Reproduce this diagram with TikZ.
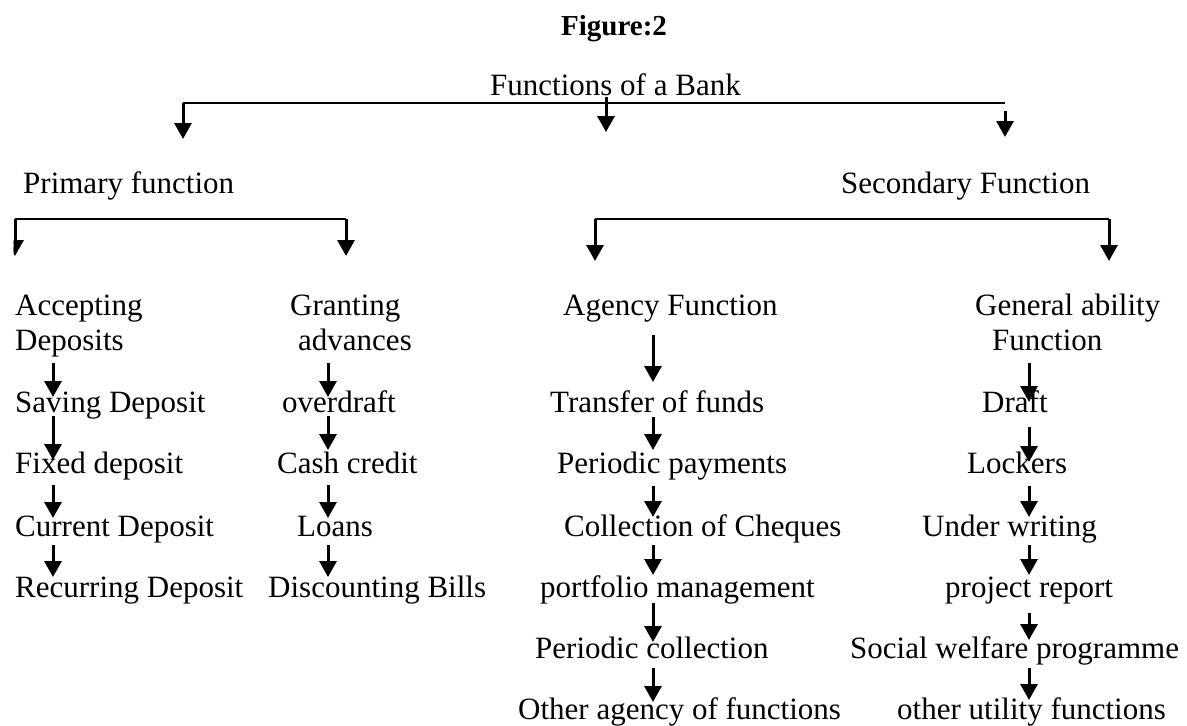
\documentclass[tikz,border=0pt]{standalone}
\usepackage{fontspec}
\setmainfont{Liberation Serif}
\usetikzlibrary{arrows.meta,calc}
\newcommand\varr[5]{\draw[arr] ($(#2.base -| #1)+(0,#3)$) -- ($(#4.base -| #1)+(0,#5)$);}
\begin{document}
\begin{tikzpicture}[x=1pt,y=-1pt,
  lbl/.style={anchor=base west, inner sep=0pt, font=\fontsize{31pt}{36pt}\selectfont},
  ttl/.style={anchor=base west, inner sep=0pt, font=\fontsize{29pt}{34pt}\selectfont\bfseries},
  bar/.style={line width=2.4pt},
  arr/.style={line width=3pt, -{Triangle[width=17pt,length=16pt]}},
]
\fill[white] (0,0) rectangle (1187,726);
\useasboundingbox (0,0) rectangle (1187,726);

% titles
\node[ttl] (fig) at (561,35) {Figure:2};
\node[lbl] (bank) at (490,95) {Functions of a Bank};
\node[lbl] (prim) at (23,193) {Primary function};
\node[lbl] (sec) at (841,193) {Secondary Function};

% column 1
\node[lbl] (acc1) at (15,315) {Accepting};
\node[lbl] (acc2) at (15,350) {Deposits};
\node[lbl] (sav) at (15,412) {Saving Deposit};
\node[lbl] (fix) at (15,473) {Fixed deposit};
\node[lbl] (cur) at (15,536) {Current Deposit};
\node[lbl] (rec) at (15,597) {Recurring Deposit};

% column 2
\node[lbl] (gr1) at (290,315) {Granting};
\node[lbl] (gr2) at (298,350) {advances};
\node[lbl] (ovd) at (282,412) {overdraft};
\node[lbl] (cash) at (277,473) {Cash credit};
\node[lbl] (loan) at (297,536) {Loans};
\node[lbl] (disc) at (268,597) {Discounting Bills};

% column 3
\node[lbl] (agy) at (563,315) {Agency Function};
\node[lbl] (tf) at (550,412) {Transfer of funds};
\node[lbl] (pp) at (557,473) {Periodic payments};
\node[lbl] (coc) at (564,536) {Collection of Cheques};
\node[lbl] (pm) at (540,597) {portfolio management};
\node[lbl] (pc) at (535,658) {Periodic collection};
\node[lbl] (oa) at (518,719) {Other agency of functions};

% column 4
\node[lbl] (ga1) at (975,315) {General ability};
\node[lbl] (ga2) at (992,350) {Function};
\node[lbl] (dr) at (982,412) {Draft};
\node[lbl] (lk) at (967,473) {Lockers};
\node[lbl] (uw) at (922,536) {Under writing};
\node[lbl] (pr) at (945,597) {project report};
\node[lbl] (sw) at (850,658) {Social welfare programme};
\node[lbl] (ou) at (897,719) {other utility functions};

% column x positions
\coordinate (xa) at (53,0);
\coordinate (xb) at (328,0);
\coordinate (xc) at (653,0);
\coordinate (xd) at (1029,0);

% top bracket
\coordinate (t1) at (183,103);
\coordinate (t2) at (1005,103);
\coordinate (tm) at (606,103);
\draw[bar] (t1) -- (t2);
\draw[arr] (t1) -- ($(t1)+(0,36)$);
\draw[arr] ($(tm)+(0,-6)$) -- ($(tm)+(0,29)$);
\draw[arr] ($(t2)+(0,8)$) -- ($(t2)+(0,34)$);

% primary bracket
\coordinate (p1) at (15,219);
\coordinate (p2) at (346,219);
\draw[bar] (p1) -- (p2);
\draw[arr] (p2) -- ($(p2)+(0,37)$);
\begin{scope}
  \clip (13.5,200) rectangle (60,270);
  \draw[arr] (p1) -- ($(p1)+(0,37)$);
\end{scope}

% secondary bracket
\coordinate (s1) at (595,219);
\coordinate (s2) at (1109,219);
\draw[bar] (s1) -- (s2);
\draw[arr] (s1) -- ($(s1)+(0,42)$);
\draw[arr] (s2) -- ($(s2)+(0,42)$);

% column 1 arrows
\varr{xa}{acc2}{13}{sav}{-15}
\varr{xa}{sav}{4}{fix}{-13}
\varr{xa}{fix}{12}{cur}{-18}
\varr{xa}{cur}{9}{rec}{-20}

% column 2 arrows
\varr{xb}{gr2}{13}{ovd}{-15}
\varr{xb}{ovd}{4}{cash}{-23}
\varr{xb}{cash}{12}{loan}{-18}
\varr{xb}{loan}{9}{disc}{-20}

% column 3 arrows
\varr{xc}{agy}{20}{tf}{-30}
\varr{xc}{tf}{5}{pp}{-23}
\varr{xc}{pp}{13}{coc}{-19}
\varr{xc}{coc}{9}{pm}{-22}
\varr{xc}{pm}{6}{pc}{-16}
\varr{xc}{pc}{10}{oa}{-17}

% column 4 arrows
\varr{xd}{ga2}{13}{dr}{-10}
\varr{xd}{dr}{15}{lk}{-11}
\varr{xd}{lk}{13}{uw}{-19}
\varr{xd}{uw}{9}{pr}{-22}
\varr{xd}{pr}{16}{sw}{-18}
\varr{xd}{sw}{10}{ou}{-19}
\end{tikzpicture}
\end{document}
